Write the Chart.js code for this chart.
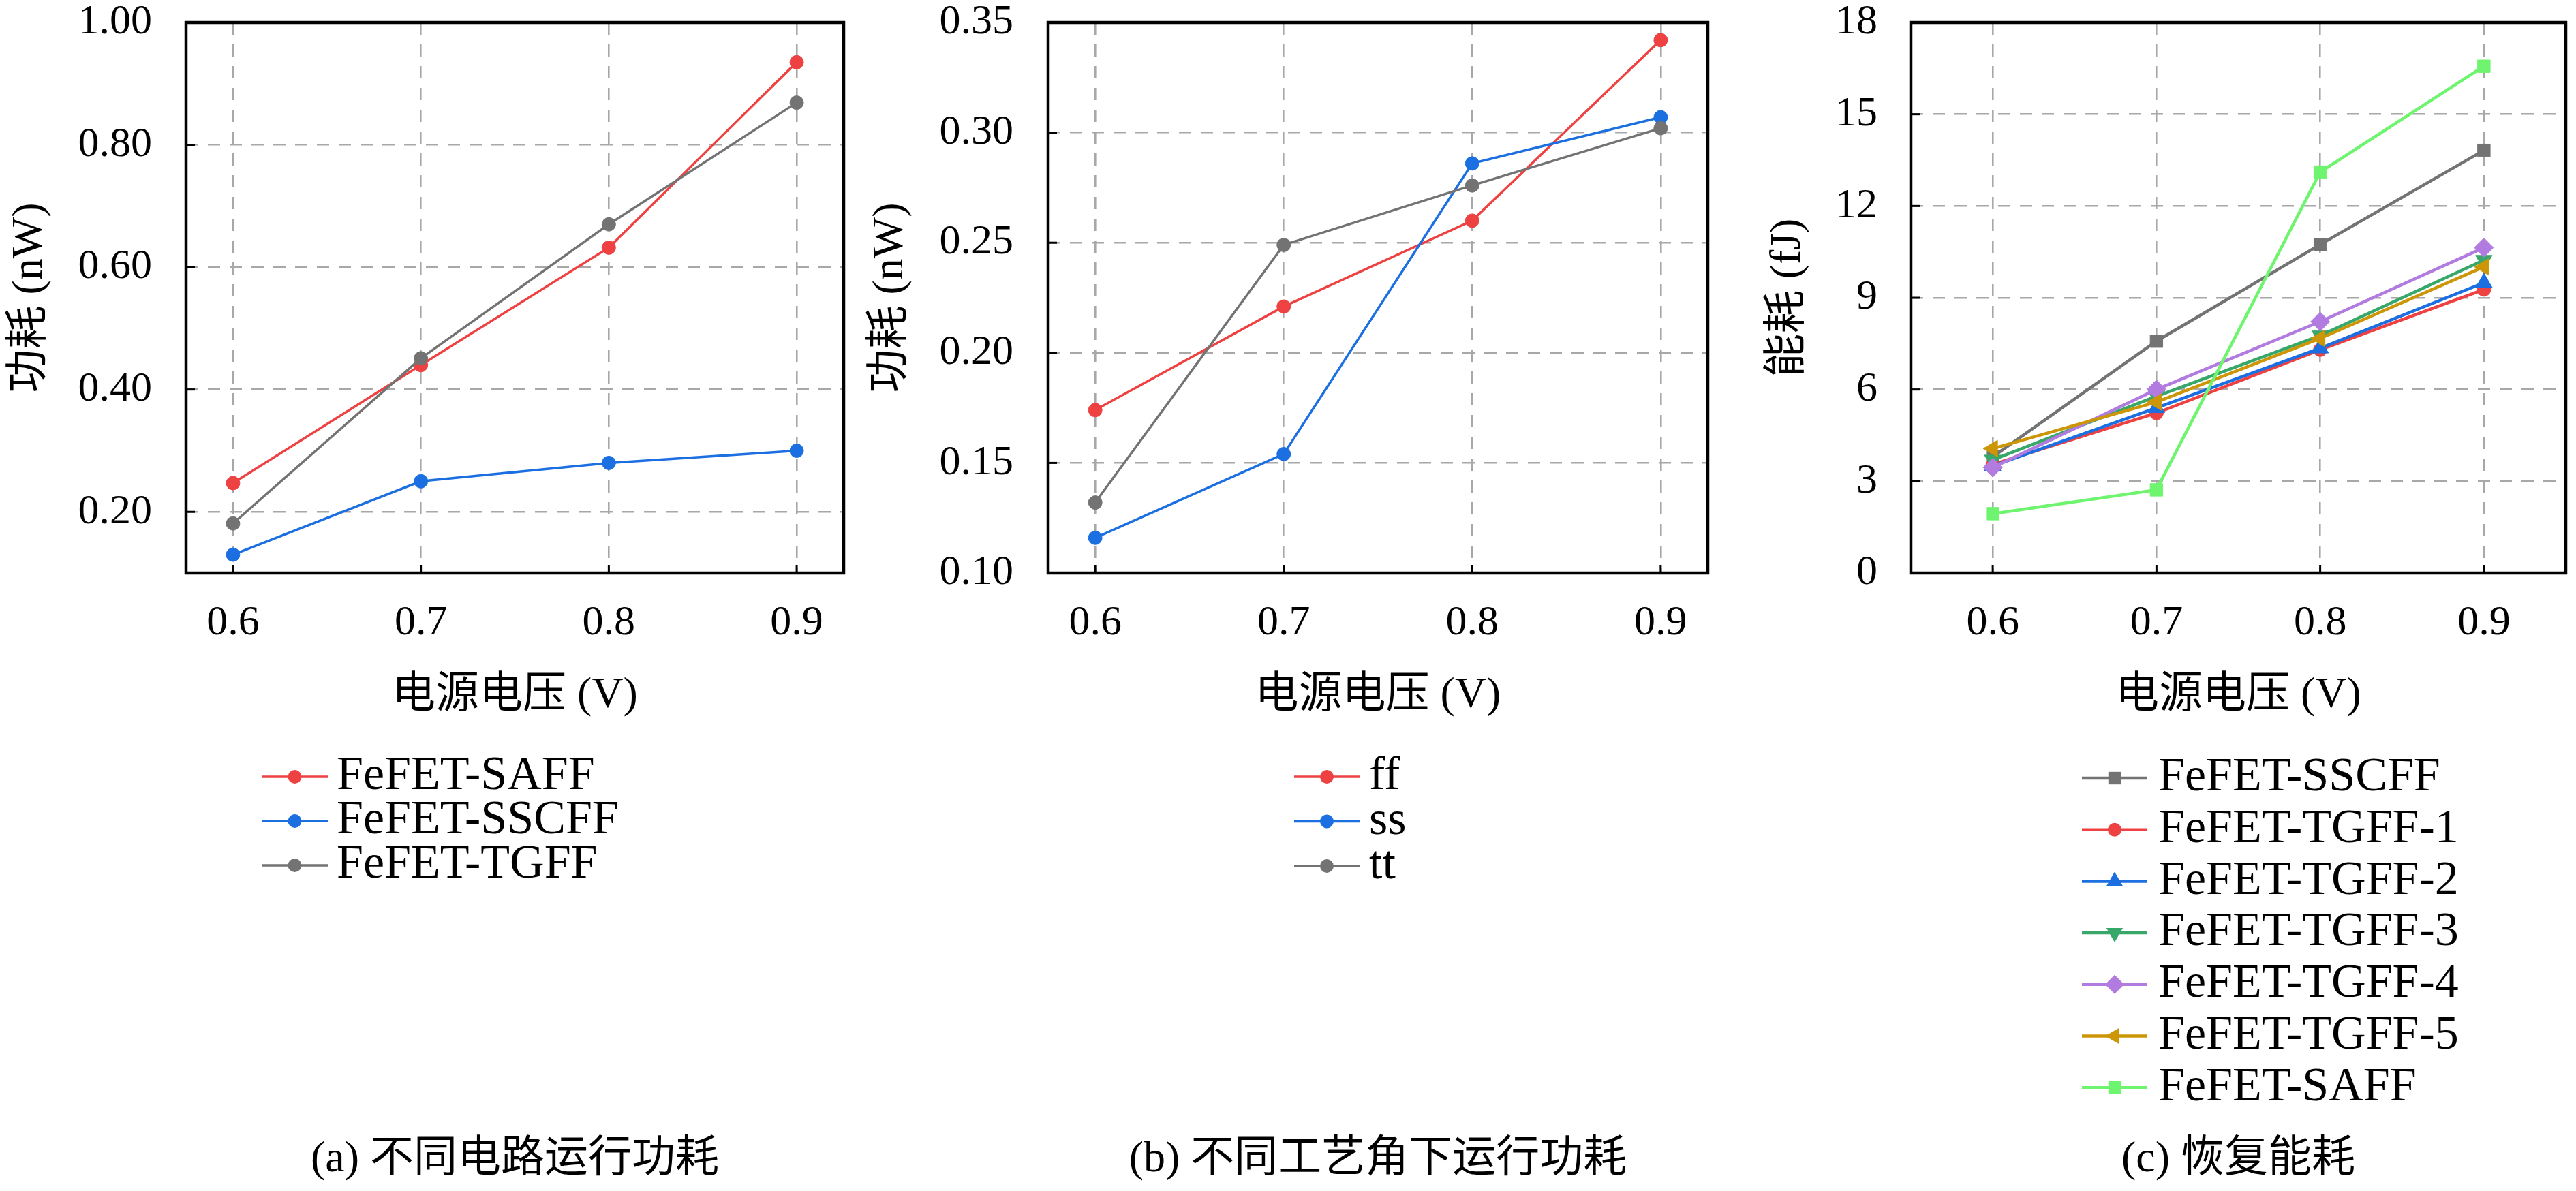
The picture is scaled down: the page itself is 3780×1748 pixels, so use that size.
<!DOCTYPE html>
<html>
<head>
<meta charset="utf-8">
<script src="https://cdn.jsdelivr.net/npm/chart.js@4.4.1/dist/chart.umd.min.js"></script>
<style>
html,body{margin:0;padding:0;background:#fff;}
#wrap{position:relative;width:3780px;height:1748px;background:#fff;overflow:hidden;}
canvas{position:absolute;top:0;}
</style>
</head>
<body>
<div id="wrap">
<canvas id="ca" width="1260" height="1748" style="left:0px;width:1260px;height:1748px"></canvas>
<canvas id="cb" width="1260" height="1748" style="left:1260px;width:1260px;height:1748px"></canvas>
<canvas id="cc" width="1260" height="1748" style="left:2520px;width:1260px;height:1748px"></canvas>
</div>
<script>
// ---------------- DATA ----------------
const voltages = [0.6, 0.7, 0.8, 0.9];
const xTicks = [0.6, 0.7, 0.8, 0.9];
const xTitle = '电源电压 (V)';

// (a)
const aTitleY = '功耗 (nW)';
const aCaption = '(a) 不同电路运行功耗';
const aLabels = ['FeFET-SAFF', 'FeFET-SSCFF', 'FeFET-TGFF'];
const aSAFF  = [0.247, 0.440, 0.632, 0.935];
const aSSCFF = [0.130, 0.250, 0.280, 0.300];
const aTGFF  = [0.181, 0.451, 0.670, 0.869];
const aYTicks = [0.20, 0.40, 0.60, 0.80, 1.00];

// (b)
const bTitleY = '功耗 (nW)';
const bCaption = '(b) 不同工艺角下运行功耗';
const bLabels = ['ff', 'ss', 'tt'];
const bFF = [0.174, 0.221, 0.260, 0.342];
const bSS = [0.116, 0.154, 0.286, 0.307];
const bTT = [0.132, 0.249, 0.276, 0.302];
const bYTicks = [0.10, 0.15, 0.20, 0.25, 0.30, 0.35];

// (c)
const cTitleY = '能耗 (fJ)';
const cCaption = '(c) 恢复能耗';
const cLabels = ['FeFET-SSCFF', 'FeFET-TGFF-1', 'FeFET-TGFF-2', 'FeFET-TGFF-3', 'FeFET-TGFF-4', 'FeFET-TGFF-5', 'FeFET-SAFF'];
const cSSCFF = [3.80, 7.58, 10.74, 13.82];
const cTGFF1 = [3.55, 5.23, 7.30, 9.27];
const cTGFF2 = [3.50, 5.40, 7.35, 9.49];
const cTGFF3 = [3.70, 5.78, 7.76, 10.23];
const cTGFF4 = [3.45, 6.00, 8.22, 10.64];
const cTGFF5 = [4.07, 5.59, 7.67, 10.01];
const cSAFF  = [1.94, 2.72, 13.11, 16.57];
const cYTicks = [0, 3, 6, 9, 12, 15, 18];

// ---------------- STYLE ----------------
const FONT = "'Liberation Serif', 'Noto Sans CJK SC', serif";
Chart.defaults.font.family = FONT;
Chart.defaults.color = '#000';

const RED = '#ee4141', BLUE = '#1b6fe0', GRAY = '#737373', GREEN = '#37a76a',
      PURPLE = '#b27be0', GOLD = '#cc9607', LGREEN = '#6ff46f';

function pts(vals) { return vals.map((v, i) => ({x: voltages[i], y: v})); }

function ds(label, vals, color, style, radius, rot, width, order) {
  return {
    label: label, data: pts(vals),
    borderColor: color, backgroundColor: color,
    borderWidth: width, pointStyle: style, pointRadius: radius,
    pointRotation: rot || 0, pointBackgroundColor: color, pointBorderColor: color,
    pointBorderWidth: 1, pointHoverRadius: radius, tension: 0, order: order, clip: false
  };
}

function drawMarker(ctx, style, x, y, r, rot) {
  ctx.beginPath();
  let a = (rot || 0) * Math.PI / 180;
  if (style === 'circle') {
    ctx.arc(x, y, r, 0, Math.PI * 2);
  } else if (style === 'rect') {
    const s = r * Math.SQRT1_2;
    ctx.rect(x - s, y - s, 2 * s, 2 * s);
  } else if (style === 'rectRot') {
    ctx.moveTo(x, y - r); ctx.lineTo(x + r, y); ctx.lineTo(x, y + r); ctx.lineTo(x - r, y); ctx.closePath();
  } else if (style === 'triangle') {
    ctx.moveTo(x + Math.sin(a) * r, y - Math.cos(a) * r);
    a += 2 * Math.PI / 3;
    ctx.lineTo(x + Math.sin(a) * r, y - Math.cos(a) * r);
    a += 2 * Math.PI / 3;
    ctx.lineTo(x + Math.sin(a) * r, y - Math.cos(a) * r);
    ctx.closePath();
  }
  ctx.fill();
}

const decorPlugin = {
  id: 'decor',
  afterDraw(chart, args, opts) {
    const ctx = chart.ctx, ca = chart.chartArea;
    const xs = chart.scales.x, ys = chart.scales.y;
    ctx.save();
    // inward tick marks
    ctx.strokeStyle = '#000';
    ctx.lineWidth = 3;
    xs.ticks.forEach(t => {
      const px = xs.getPixelForValue(t.value);
      ctx.beginPath(); ctx.moveTo(px, ca.bottom); ctx.lineTo(px, ca.bottom - 12); ctx.stroke();
    });
    ys.ticks.forEach(t => {
      const py = ys.getPixelForValue(t.value);
      ctx.beginPath(); ctx.moveTo(ca.left, py); ctx.lineTo(ca.left + 13, py); ctx.stroke();
    });
    // frame
    ctx.lineWidth = 4.5;
    ctx.strokeRect(ca.left, ca.top, ca.right - ca.left, ca.bottom - ca.top);
    // legend
    const L = opts.legend;
    ctx.font = L.fontSize + 'px ' + FONT;
    ctx.textAlign = 'left';
    ctx.textBaseline = 'middle';
    chart.data.datasets.forEach((d, i) => {
      const y = L.top + i * L.gap;
      ctx.strokeStyle = d.borderColor;
      ctx.lineWidth = d.borderWidth;
      ctx.beginPath(); ctx.moveTo(L.x0, y); ctx.lineTo(L.x1, y); ctx.stroke();
      ctx.fillStyle = d.borderColor;
      drawMarker(ctx, d.pointStyle, (L.x0 + L.x1) / 2, y, d.pointRadius, d.pointRotation);
      ctx.fillStyle = '#000';
      ctx.fillText(d.label, L.textX, y);
    });
    // caption
    ctx.font = '64px ' + FONT;
    ctx.textAlign = 'center';
    ctx.fillStyle = '#000';
    ctx.fillText(opts.caption, (ca.left + ca.right) / 2, opts.captionY);
    ctx.restore();
  }
};

function makeChart(id, datasets, cfg) {
  return new Chart(document.getElementById(id), {
    type: 'line',
    data: {datasets: datasets},
    plugins: [decorPlugin],
    options: {
      responsive: false, animation: false, devicePixelRatio: 1,
      font: {family: FONT},
      layout: {padding: {left: 0, right: cfg.padRight, top: 33, bottom: 677}},
      plugins: {
        legend: {display: false}, tooltip: {enabled: false},
        decor: {legend: cfg.legend, caption: cfg.caption, captionY: 1702}
      },
      scales: {
        x: {
          type: 'linear', min: cfg.xmin, max: cfg.xmax,
          afterBuildTicks: s => { s.ticks = xTicks.map(v => ({value: v})); },
          afterFit: s => { s.height = 230; s.paddingLeft = 0; s.paddingRight = 0; },
          ticks: {padding: 43, font: {family: FONT, size: 62, lineHeight: 1}, color: '#000',
                  callback: v => Number(v).toFixed(1), maxRotation: 0, autoSkip: false},
          grid: {color: '#a8a8a8', lineWidth: 2.6, drawTicks: false},
          border: {display: false, dash: [18, 14]},
          title: {display: true, text: xTitle, font: {family: FONT, size: 64, lineHeight: 1}, color: '#000',
                  padding: {top: 0, bottom: 18}}
        },
        y: {
          type: 'linear', min: cfg.ymin, max: cfg.ymax,
          afterBuildTicks: s => { s.ticks = cfg.yTicks.map(v => ({value: v})); },
          afterFit: s => { s.width = cfg.yWidth; s.paddingTop = 0; s.paddingBottom = 0; },
          ticks: {padding: cfg.yPad, font: {family: FONT, size: 62, lineHeight: 1}, color: '#000',
                  callback: v => Number(v).toFixed(cfg.dec), autoSkip: false},
          grid: {color: '#a8a8a8', lineWidth: 2.6, drawTicks: false},
          border: {display: false, dash: [18, 14]},
          title: {display: true, text: cfg.yTitle, font: {family: FONT, size: 64, lineHeight: 1}, color: '#000',
                  padding: {top: cfg.yTitlePad, bottom: 0}}
        }
      }
    }
  });
}

makeChart('ca', [
  ds(aLabels[0], aSAFF, RED, 'circle', 10, 0, 3.5, 3),
  ds(aLabels[1], aSSCFF, BLUE, 'circle', 10, 0, 3.5, 2),
  ds(aLabels[2], aTGFF, GRAY, 'circle', 10, 0, 3.5, 1)
], {xmin: 0.575, xmax: 0.925, ymin: 0.10, ymax: 1.00, yTicks: aYTicks, dec: 2,
    yWidth: 273, padRight: 22, yPad: 50, yTitle: aTitleY, yTitlePad: 12, caption: aCaption,
    legend: {x0: 384, x1: 481, textX: 494, top: 1140, gap: 65, fontSize: 70}});

makeChart('cb', [
  ds(bLabels[0], bFF, RED, 'circle', 10, 0, 3.5, 3),
  ds(bLabels[1], bSS, BLUE, 'circle', 10, 0, 3.5, 2),
  ds(bLabels[2], bTT, GRAY, 'circle', 10, 0, 3.5, 1)
], {xmin: 0.575, xmax: 0.925, ymin: 0.10, ymax: 0.35, yTicks: bYTicks, dec: 2,
    yWidth: 278, padRight: 14, yPad: 51, yTitle: bTitleY, yTitlePad: 15, caption: bCaption,
    legend: {x0: 639, x1: 735, textX: 749, top: 1140, gap: 65.5, fontSize: 70}});

makeChart('cc', [
  ds(cLabels[0], cSSCFF, GRAY, 'rect', 13, 0, 4.5, 7),
  ds(cLabels[1], cTGFF1, RED, 'circle', 10, 0, 4.5, 6),
  ds(cLabels[2], cTGFF2, BLUE, 'triangle', 14, 0, 4.5, 5),
  ds(cLabels[3], cTGFF3, GREEN, 'triangle', 14, 180, 4.5, 4),
  ds(cLabels[4], cTGFF4, PURPLE, 'rectRot', 14, 0, 4.5, 3),
  ds(cLabels[5], cTGFF5, GOLD, 'triangle', 14, -90, 4.5, 2),
  ds(cLabels[6], cSAFF, LGREEN, 'rect', 13, 0, 4.5, 1)
], {xmin: 0.55, xmax: 0.95, ymin: 0, ymax: 18, yTicks: cYTicks, dec: 0,
    yWidth: 284, padRight: 8, yPad: 49, yTitle: cTitleY, yTitlePad: 72, caption: cCaption,
    legend: {x0: 535, x1: 631, textX: 647, top: 1142, gap: 75.7, fontSize: 70}});
</script>
</body>
</html>
